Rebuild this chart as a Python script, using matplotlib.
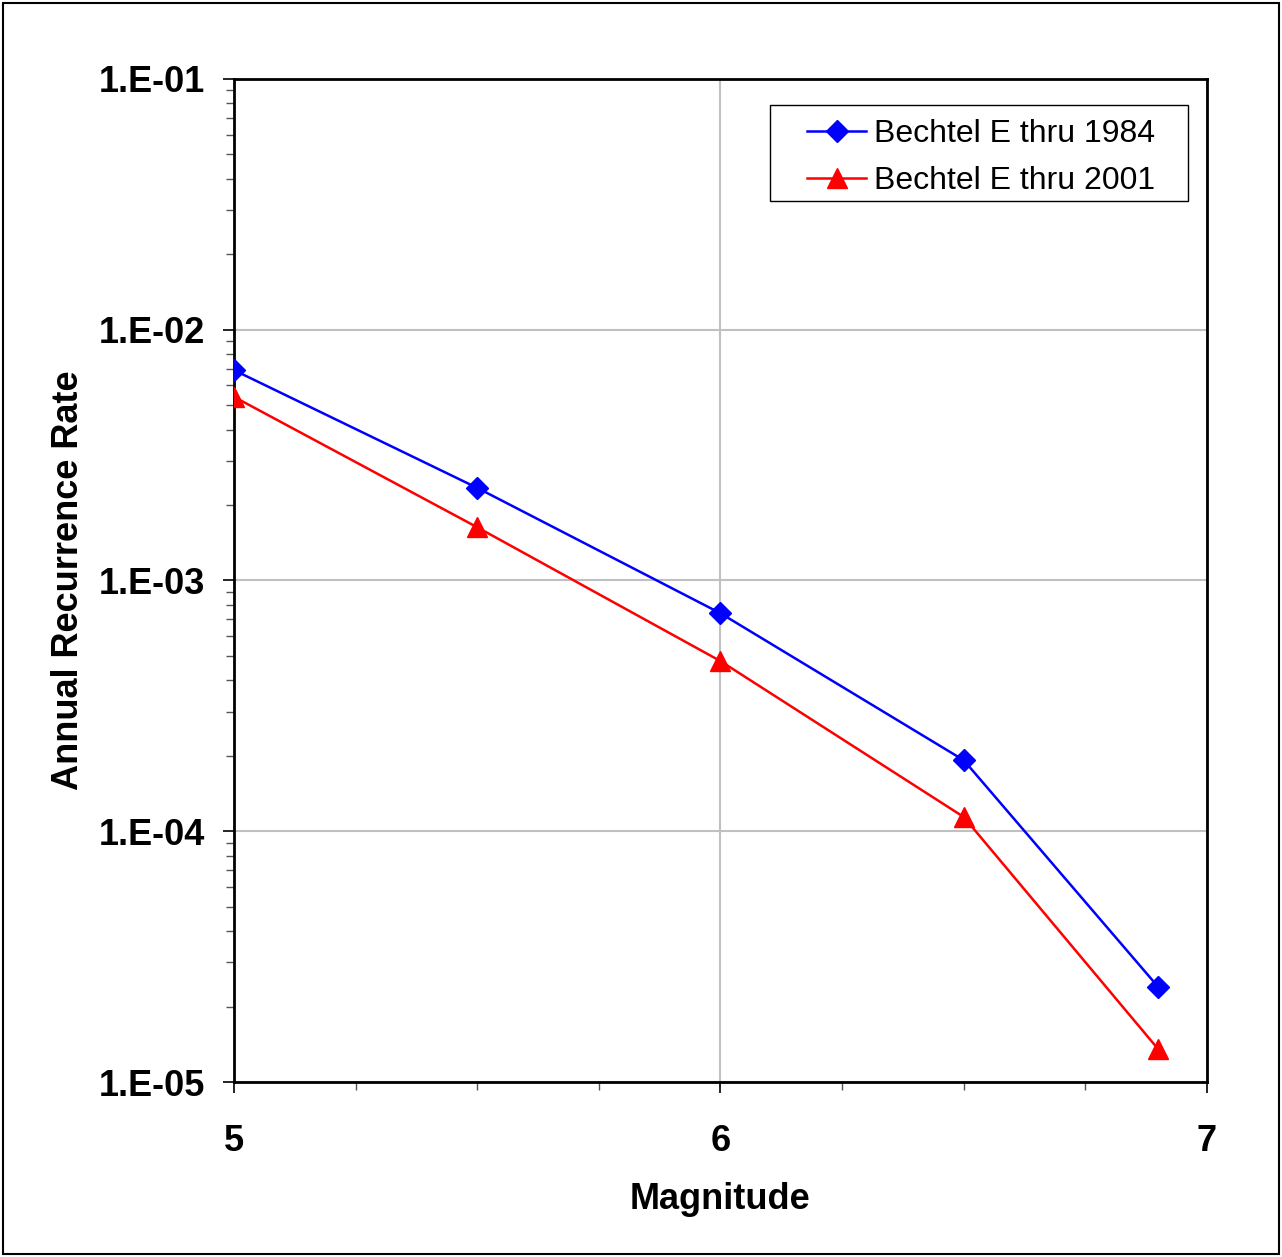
import numpy as np
import matplotlib
matplotlib.use("Agg")
import matplotlib.pyplot as plt
from matplotlib.ticker import MultipleLocator, FixedLocator, LogLocator, NullFormatter

plt.rcParams['font.family'] = ['Liberation Sans', 'DejaVu Sans']

# -----------------------------
# Data
# -----------------------------
magnitude = [5.0, 5.5, 6.0, 6.5, 6.9]
rate_1984 = [6.9e-3, 2.34e-3, 7.4e-4, 1.92e-4, 2.39e-5]
rate_2001 = [5.4e-3, 1.63e-3, 4.77e-4, 1.14e-4, 1.35e-5]
labels = ["Bechtel E thru 1984", "Bechtel E thru 2001"]
y_ticks = [1e-5, 1e-4, 1e-3, 1e-2, 1e-1]
y_ticklabels = ["1.E-05", "1.E-04", "1.E-03", "1.E-02", "1.E-01"]

fig = plt.figure(figsize=(12.82, 12.57), dpi=100)
ax = fig.add_axes([0.1825, 0.1392, 0.7590, 0.7980])

ax.plot(magnitude, rate_1984, color="blue", lw=1.8, marker="D", ms=11,
        label=labels[0], zorder=3)
ax.plot(magnitude, rate_2001, color="red", lw=1.8, marker="^", ms=14,
        label=labels[1], zorder=3)

ax.set_yscale("log")
ax.set_xlim(5, 7)
ax.set_ylim(1e-5, 1e-1)

ax.xaxis.set_major_locator(MultipleLocator(1))
ax.xaxis.set_minor_locator(MultipleLocator(0.25))
ax.yaxis.set_major_locator(FixedLocator(y_ticks))
ax.set_yticklabels(y_ticklabels)
ax.yaxis.set_minor_locator(LogLocator(base=10, subs=np.arange(2, 10)))
ax.yaxis.set_minor_formatter(NullFormatter())

ax.tick_params(axis="both", which="major", direction="out", length=8,
               width=1.2, labelsize=26)
ax.tick_params(axis="x", which="major", pad=22)
ax.tick_params(axis="y", which="major", pad=13)
ax.tick_params(axis="both", which="minor", direction="out", length=6,
               width=1.0, color="#555555")
for lab in ax.get_xticklabels() + ax.get_yticklabels():
    lab.set_fontweight("bold")

ax.grid(True, which="major", color="#c0c0c0", lw=1.5)
ax.set_axisbelow(True)
for sp in ax.spines.values():
    sp.set_linewidth(2)
    sp.set_color("black")

ax.set_xlabel("Magnitude", fontsize=26, fontweight="bold", labelpad=17)
ax.set_ylabel("Annual Recurrence Rate", fontsize=26, fontweight="bold",
              labelpad=9)

# legend: box drawn separately so its padding matches the reference
ax.add_patch(plt.Rectangle((0.551, 0.878), 0.4295, 0.096,
                           transform=ax.transAxes, facecolor="white",
                           edgecolor="black", lw=1.0, zorder=4))
leg = ax.legend(loc="center left", bbox_to_anchor=(0.589, 0.9215),
                fontsize=23, frameon=False, borderaxespad=0, borderpad=0,
                handlelength=1.85, labelspacing=0.55, handletextpad=0.25)
leg.set_zorder(5)

# outer figure border
fig.patches.append(plt.Rectangle((0.002, 0.002), 0.996, 0.996,
                                 transform=fig.transFigure, fill=False,
                                 edgecolor="black", lw=1.5))

fig.savefig("out.png", dpi=100)
